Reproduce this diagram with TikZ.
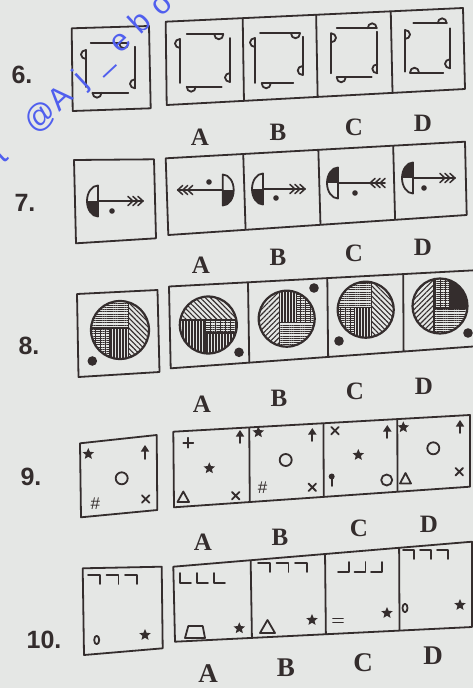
\documentclass[tikz,border=0pt]{standalone}
\usepackage{fontspec}
\setmainfont{Liberation Serif}
\newfontfamily\sansf{Liberation Sans}
\usetikzlibrary{calc,patterns.meta,shapes.geometric,arrows.meta}
\definecolor{ink}{RGB}{52,45,45}
\definecolor{paper}{RGB}{229,231,229}
\definecolor{wm}{RGB}{80,95,238}
\tikzset{
  box/.style={draw=ink, line width=1.8pt, line join=round},
  sym/.style={draw=ink, line width=1.8pt, line cap=round, line join=round},
  div/.style={draw=ink, line width=1.2pt},
  qnum/.style={font=\sansf\bfseries\fontsize{25}{25}\selectfont, text=ink, inner sep=0pt},
  optl/.style={font=\bfseries\fontsize{25}{25}\selectfont, text=ink, inner sep=0pt},
  optlb/.style={font=\bfseries\fontsize{27}{27}\selectfont, text=ink, inner sep=0pt},
  starsym/.style={star, star points=5, star point ratio=2.2, fill=ink, inner sep=0pt, minimum size=12pt},
  hashsym/.style={font=\sansf\itshape\fontsize{17}{17}\selectfont, text=ink, inner sep=0pt},
  wmk/.style={font=\sansf\fontsize{31}{31}\selectfont, text=wm, rotate=43, inner sep=0pt, anchor=base west},
  pdiagNW/.style={pattern={Lines[angle=-45,distance=3.6pt,line width=1.1pt]}, pattern color=ink},
  pdiagNE/.style={pattern={Lines[angle=45,distance=3.6pt,line width=1.1pt]}, pattern color=ink},
  phor/.style={pattern={Lines[angle=0,distance=2.2pt,line width=0.8pt]}, pattern color=ink},
  pbrk/.style={pattern={Lines[angle=90,distance=5pt,line width=0.6pt]}, pattern color=ink},
  pver/.style={pattern={Lines[angle=90,distance=3pt,line width=1.1pt]}, pattern color=ink},
}
% loops for question 6
\newcommand\lpdn[2]{\draw[sym] (#1,#2) ++(-4.5,0) arc[start angle=180,end angle=0,x radius=4.5,y radius=5];}
\newcommand\lpup[2]{\draw[sym] (#1,#2) ++(-4.5,0) arc[start angle=180,end angle=360,x radius=4.5,y radius=5];}
\newcommand\lplf[2]{\draw[sym] (#1,#2) ++(0,-4.5) arc[start angle=270,end angle=90,x radius=5,y radius=4.5];}
\newcommand\lprt[2]{\draw[sym] (#1,#2) ++(0,-4.5) arc[start angle=270,end angle=450,x radius=5,y radius=4.5];}
% arrow figure for question 7
\newcommand\arrowfig[7]{%
\begin{scope}[shift={#1}, xscale=#2]
 \fill[#3] (0,0) -- (0,-15.5) arc[start angle=270,end angle=180,x radius=11,y radius=15.5] -- cycle;
 \fill[#4] (0,0) -- (-11,0) arc[start angle=180,end angle=90,x radius=11,y radius=15.5] -- cycle;
 \draw[sym] (0,-15.5) arc[start angle=270,end angle=90,x radius=11,y radius=15.5] -- cycle;
 \draw[sym, line width=1.5pt] (0,0) -- (#5,0);
 \foreach \k in {0,1,2}{\draw[sym, line width=1.5pt] ({#5-5*\k-2.5-2.5*#6},-4.5) -- ({#5-5*\k-2.5+2.5*#6},0) -- ({#5-5*\k-2.5-2.5*#6},4.5);}
 \fill[ink] #7 circle[radius=2.8];
\end{scope}}
% hatched circle for question 8
\newcommand\circfig[4]{%
\begin{scope}[shift={(#1,#2)}]
 \begin{scope}\clip (0,0) circle[radius=#3]; #4 \end{scope}
 \draw[ink, line width=2.2pt] (0,0) circle[radius=#3];
\end{scope}}
% bracket rows for question 10
\newcommand\sevens[4]{\foreach \k in {0,1,2}{\draw[sym] ({#1+\k*#3},#2) -- ++(#4,0) -- ++(0,9);}}
\newcommand\ells[4]{\foreach \k in {0,1,2}{\draw[sym] ({#1+\k*#3},#2) -- ++(0,10) -- ++(#4,0);}}
\newcommand\jays[4]{\foreach \k in {0,1,2}{\draw[sym] ({#1+\k*#3},{#2+10}) -- ++(#4,0) -- ++(0,-10);}}
\newcommand\crosssym[2]{\draw[sym] (#1-3.8,#2-3.8) -- (#1+3.8,#2+3.8) (#1-3.8,#2+3.8) -- (#1+3.8,#2-3.8);}
\newcommand\upsym[3]{\draw[sym, -{Triangle[length=6.5pt,width=8pt]}] (#1,#2) -- (#1,#3);}

\begin{document}
\begin{tikzpicture}[x=1pt,y=-1pt]
\fill[paper] (0,0) rectangle (473,688);
\useasboundingbox (0,0) rectangle (473,688);
\clip (0,0) rectangle (473,688);

% ---------------- row 6
\node[qnum] (n6) at (22,75) {6.};
\draw[box] (71.7,28.3) -- (149,26) -- (150.7,108.3) -- (72.7,111) -- cycle;
\coordinate (s6a) at (165.7,21.7); \coordinate (s6b) at (463,8);
\coordinate (s6c) at (465,89);     \coordinate (s6d) at (166.7,105);
\draw[box] (s6a) -- (s6b) -- (s6c) -- (s6d) -- cycle;
\foreach \f in {0.259,0.506,0.757}{\draw[box] ($(s6a)!\f!(s6b)$) -- ($(s6d)!\f!(s6c)$);}
% question
\draw[sym] (90.7,43.3) -- (128.3,43.3); \lpdn{123.8}{43.3}
\draw[sym] (86,50) -- (86,87); \lplf{86}{54.5}
\draw[sym] (135,46.7) -- (135,88.3); \lplf{135}{83.8}
\draw[sym] (92.5,92.7) -- (128.3,92.7); \lpdn{97}{92.7}
% A
\draw[sym] (186.7,34.3) -- (223.3,34.3); \lpdn{218.8}{34.3}
\draw[sym] (180,39) -- (180,83); \lplf{180}{43.5}
\draw[sym] (230,38) -- (230,82); \lplf{230}{77.5}
\draw[sym] (186.7,86.7) -- (221.7,86.7); \lpdn{191.2}{86.7}
% B
\draw[sym] (260,33.3) -- (300,33.3); \lpdn{295.5}{33.3}
\draw[sym] (255,38) -- (255,83); \lplf{255}{42.5}
\draw[sym] (302.7,36.7) -- (302.7,75); \lplf{302.7}{70.5}
\draw[sym] (261.7,83.3) -- (293.3,83.3); \lpdn{266.2}{83.3}
% C
\draw[sym] (336.7,28.3) -- (376.7,28.3); \lpup{372.2}{28.3}
\draw[sym] (331,33.3) -- (331,73.3); \lprt{331}{37.8}
\draw[sym] (377.3,31.7) -- (377.3,73.3); \lplf{377.3}{68.8}
\draw[sym] (336.7,77.3) -- (371.7,77.3); \lpdn{341.2}{77.3}
% D
\draw[sym] (413.3,23.3) -- (446.7,23.3); \lpup{442.2}{23.3}
\draw[sym] (405,30) -- (405,71.7); \lprt{405}{34.5}
\draw[sym] (450,28.3) -- (450,68.3); \lplf{450}{63.8}
\draw[sym] (410,72.7) -- (443.3,72.7); \lpup{414.5}{72.7}
\node[optl] (l6a) at (200,137) {A};
\node[optl] (l6b) at (278,132) {B};
\node[optl] (l6c) at (354,127) {C};
\node[optl] (l6d) at (423,123) {D};

% ---------------- row 7
\node[qnum] (n7) at (25,203) {7.};
\draw[box] (74,160) -- (154,159.3) -- (156,238.3) -- (76,243.3) -- cycle;
\coordinate (s7a) at (165.7,158.3); \coordinate (s7b) at (465,141.7);
\coordinate (s7c) at (466.7,215);   \coordinate (s7d) at (168.3,235);
\draw[box] (s7a) -- (s7b) -- (s7c) -- (s7d) -- cycle;
\foreach \f in {0.259,0.51,0.76}{\draw[box] ($(s7a)!\f!(s7b)$) -- ($(s7d)!\f!(s7c)$);}
\arrowfig{(98,201)}{1}{paper}{ink}{45}{1}{(14,10)}
\arrowfig{(222.7,190)}{-1}{paper}{ink}{45}{1}{(13.7,-8)}
\arrowfig{(263,189)}{1}{paper}{ink}{42}{1}{(13,9)}
\arrowfig{(338,183)}{1}{ink}{paper}{47}{-1}{(17,10)}
\arrowfig{(413,178)}{1}{ink}{paper}{42}{1}{(11,10)}
\node[optl] (l7a) at (201,265) {A};
\node[optl] (l7b) at (278,257) {B};
\node[optl] (l7c) at (354,253) {C};
\node[optl] (l7d) at (423,247) {D};

% ---------------- row 8
\node[qnum] (n8) at (29,346) {8.};
\draw[box] (77,294) -- (157.5,290) -- (159.5,372) -- (78.5,377) -- cycle;
\coordinate (s8a) at (169,286.5); \coordinate (s8b) at (480,270);
\coordinate (s8c) at (480,346);   \coordinate (s8d) at (170.7,368.3);
\draw[box] (s8a) -- (s8b) -- (s8c) -- (s8d) -- cycle;
\foreach \f in {0.254,0.509,0.753}{\draw[box] ($(s8a)!\f!(s8b)$) -- ($(s8d)!\f!(s8c)$);}
\circfig{120}{330}{29}{%
 \fill[pdiagNW] (8.5,-30) rectangle (30,30);
 \fill[phor] (-30,-30) rectangle (8.5,-2);
 \fill[phor] (-30,-2) rectangle (-10,30);
 \fill[pbrk] (-30,-2) rectangle (-10,30);
 \fill[pver] (-10,-2) rectangle (8.5,30);
 \draw[div] (8.5,-30) -- (8.5,30) (-30,-2) -- (8.5,-2) (-10,-2) -- (-10,30);}
\circfig{208.3}{325}{28.5}{%
 \fill[pdiagNW] (-30,-30) rectangle (30,-5);
 \fill[pver] (-30,-5) rectangle (-3,30);
 \fill[phor] (-3,-5) rectangle (30,8);
 \fill[pbrk] (-3,-5) rectangle (30,8);
 \fill[pver] (-3,8) rectangle (30,30);
 \draw[div] (-30,-5) -- (30,-5) (-3,-5) -- (-3,30) (-3,8) -- (30,8);}
\circfig{286.7}{318.7}{28}{%
 \fill[pdiagNE] (-30,-30) rectangle (-7,30);
 \fill[pver] (-7,-30) rectangle (10,4);
 \fill[phor] (10,-30) rectangle (30,4);
 \fill[pbrk] (10,-30) rectangle (30,4);
 \fill[phor] (-7,4) rectangle (30,30);
 \draw[div] (-7,-30) -- (-7,30) (10,-30) -- (10,4) (-7,4) -- (30,4);}
\circfig{365.7}{309.7}{28}{%
 \fill[pdiagNW] (6,-30) rectangle (30,30);
 \fill[phor] (-30,-30) rectangle (6,-2);
 \fill[phor] (-30,-2) rectangle (-11,30);
 \fill[pbrk] (-30,-2) rectangle (-11,30);
 \fill[pver] (-11,-2) rectangle (6,30);
 \draw[div] (6,-30) -- (6,30) (-30,-2) -- (6,-2) (-11,-2) -- (-11,30);}
\circfig{440}{306}{27.5}{%
 \fill[pdiagNE] (-30,-30) rectangle (-6,30);
 \fill[phor] (-6,-30) rectangle (30,30);
 \fill[pbrk] (-6,-30) rectangle (10,2);
 \fill[ink] (10,-30) rectangle (30,2);
 \draw[div] (-6,-30) -- (-6,30) (10,-30) -- (10,2) (-6,2) -- (30,2);}
\fill[ink] (92.3,361) circle[radius=4.8];
\fill[ink] (239,352.3) circle[radius=4.8];
\fill[ink] (314,288) circle[radius=4.8];
\fill[ink] (339,341) circle[radius=4.8];
\fill[ink] (468,333) circle[radius=4.8];
\node[optl] (l8a) at (202,404) {A};
\node[optl] (l8b) at (279,398) {B};
\node[optl] (l8c) at (355,391) {C};
\node[optl] (l8d) at (424,386) {D};

% ---------------- row 9
\node[qnum] (n9) at (31,477) {9.};
\draw[box] (80,443.3) -- (156.7,435) -- (157.3,510) -- (81,517.3) -- cycle;
\coordinate (s9a) at (173.3,431.7); \coordinate (s9b) at (470,415);
\coordinate (s9c) at (470,486.7);   \coordinate (s9d) at (174,507.3);
\draw[box] (s9a) -- (s9b) -- (s9c) -- (s9d) -- cycle;
\foreach \f in {0.256,0.506,0.755}{\draw[box] ($(s9a)!\f!(s9b)$) -- ($(s9d)!\f!(s9c)$);}
% question
\node[starsym] (q9s) at (88.3,454) {};
\upsym{145}{459}{445}
\draw[sym] (121.7,478.3) circle[radius=6];
\node[hashsym] (q9h) at (95,504) {\#};
\crosssym{145.7}{499}
% A
\draw[sym] (183.3,442.7) -- (193.3,442.7) (188.3,437.7) -- (188.3,447.7);
\upsym{240}{443}{430}
\node[starsym] (a9s) at (209.3,468.3) {};
\draw[sym] (177.5,502) -- (189,502) -- (183.3,491.5) -- cycle;
\crosssym{235.7}{495.7}
% B
\node[starsym] (b9s) at (258.3,432.3) {};
\upsym{312.3}{441}{428}
\draw[sym] (285.7,460) circle[radius=6];
\node[hashsym] (b9h) at (262.3,487.3) {\#};
\crosssym{312.3}{487.3}
% C
\crosssym{335}{430.7}
\upsym{387.3}{438}{425}
\node[starsym] (c9s) at (358.3,455) {};
\fill[ink] (331.7,476.5) circle[radius=3];
\draw[sym] (331.7,476.5) -- (331.7,486);
\draw[sym] (386.7,480) circle[radius=5.5];
% D
\node[starsym] (d9s) at (403.3,427.3) {};
\upsym{460}{433}{420}
\draw[sym] (433.3,448.3) circle[radius=6];
\draw[sym] (400,483.5) -- (411,483.5) -- (405.5,473) -- cycle;
\crosssym{459.3}{471.7}
\node[optl] (l9a) at (203,542) {A};
\node[optl] (l9b) at (280,537) {B};
\node[optl] (l9c) at (359,528) {C};
\node[optl] (l9d) at (429,524) {D};

% ---------------- row 10
\node[qnum] (n10) at (44,640) {10.};
\draw[box] (82.7,568.3) -- (161.7,566.7) -- (162.7,648.3) -- (84,655) -- cycle;
\coordinate (s10a) at (173.3,566.7); \coordinate (s10b) at (472,541.7);
\coordinate (s10c) at (472,627);     \coordinate (s10d) at (175,641.7);
\draw[box] (s10a) -- (s10b) -- (s10c) -- (s10d) -- cycle;
\foreach \f in {0.259,0.508,0.756}{\draw[box] ($(s10a)!\f!(s10b)$) -- ($(s10d)!\f!(s10c)$);}
% question
\sevens{88}{575}{18.5}{12}
\draw[sym] (96.7,640) ellipse[x radius=2.5,y radius=4.2];
\node[starsym] (q10s) at (145,635) {};
% A
\ells{180}{573}{17}{11}
\draw[sym] (188.3,626) -- (202.7,626) -- (205,638) -- (185,638) -- cycle;
\node[starsym] (a10s) at (239.3,628.3) {};
% B
\sevens{258}{563}{18.5}{12}
\draw[sym] (260,633) -- (275,633) -- (267.5,620) -- cycle;
\node[starsym] (b10s) at (312,620) {};
% C
\jays{338}{562}{16.5}{11}
\draw[sym] (333,618.5) -- (343,618.5) (333,622.5) -- (343,622.5);
\node[starsym] (c10s) at (387,613) {};
% D
\sevens{403}{550}{17}{11}
\draw[sym] (405,608) ellipse[x radius=2.5,y radius=4.2];
\node[starsym] (d10s) at (460,605) {};
\node[optlb] (l10a) at (208,674) {A};
\node[optlb] (l10b) at (286,668) {B};
\node[optlb] (l10c) at (363,663) {C};
\node[optlb] (l10d) at (433,656) {D};

% ---------------- watermark
\node[wmk] (wmark) at (3.2,164.3) {t\kern34.95pt @\kern1.4pt A\kern13.7pt j\kern15.45pt \_\kern10.3pt e\kern10.3pt b\kern10.3pt o};
\end{tikzpicture}
\end{document}
